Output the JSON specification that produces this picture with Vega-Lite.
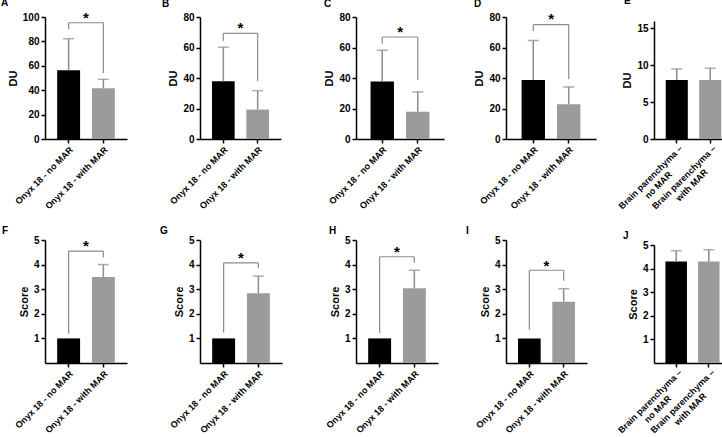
{
"$schema": "https://vega.github.io/schema/vega-lite/v6.json",
"padding": {"left": 1, "top": -4, "right": 0, "bottom": 0},
"datasets": {
"rows": [
{"kind": "bar", "panel": "A", "group": "Onyx 18 - no MAR", "cond": "no", "mean": 56.3, "hi": 82.2},
{"kind": "bar", "panel": "A", "group": "Onyx 18 - with MAR", "cond": "with", "mean": 41.5, "hi": 48.9},
{"kind": "bar", "panel": "B", "group": "Onyx 18 - no MAR", "cond": "no", "mean": 37.8, "hi": 60.2},
{"kind": "bar", "panel": "B", "group": "Onyx 18 - with MAR", "cond": "with", "mean": 19.3, "hi": 31.7},
{"kind": "bar", "panel": "C", "group": "Onyx 18 - no MAR", "cond": "no", "mean": 37.7, "hi": 58.2},
{"kind": "bar", "panel": "C", "group": "Onyx 18 - with MAR", "cond": "with", "mean": 17.9, "hi": 30.9},
{"kind": "bar", "panel": "D", "group": "Onyx 18 - no MAR", "cond": "no", "mean": 38.7, "hi": 64.6},
{"kind": "bar", "panel": "D", "group": "Onyx 18 - with MAR", "cond": "with", "mean": 22.8, "hi": 34.1},
{"kind": "bar", "panel": "E", "group": "Brain parenchyma – no MAR", "cond": "no", "mean": 8.0, "hi": 9.5},
{"kind": "bar", "panel": "E", "group": "Brain parenchyma – with MAR", "cond": "with", "mean": 8.0, "hi": 9.6},
{"kind": "bar", "panel": "F", "group": "Onyx 18 - no MAR", "cond": "no", "mean": 1, "hi": 1},
{"kind": "bar", "panel": "F", "group": "Onyx 18 - with MAR", "cond": "with", "mean": 3.5, "hi": 4.0},
{"kind": "bar", "panel": "G", "group": "Onyx 18 - no MAR", "cond": "no", "mean": 1, "hi": 1},
{"kind": "bar", "panel": "G", "group": "Onyx 18 - with MAR", "cond": "with", "mean": 2.84, "hi": 3.53},
{"kind": "bar", "panel": "H", "group": "Onyx 18 - no MAR", "cond": "no", "mean": 1, "hi": 1},
{"kind": "bar", "panel": "H", "group": "Onyx 18 - with MAR", "cond": "with", "mean": 3.04, "hi": 3.77},
{"kind": "bar", "panel": "I", "group": "Onyx 18 - no MAR", "cond": "no", "mean": 1, "hi": 1},
{"kind": "bar", "panel": "I", "group": "Onyx 18 - with MAR", "cond": "with", "mean": 2.49, "hi": 3.02},
{"kind": "bar", "panel": "J", "group": "Brain parenchyma – no MAR", "cond": "no", "mean": 4.3, "hi": 4.76},
{"kind": "bar", "panel": "J", "group": "Brain parenchyma – with MAR", "cond": "with", "mean": 4.3, "hi": 4.8},
{"kind": "sig", "panel": "A", "g1": "Onyx 18 - no MAR", "g2": "Onyx 18 - with MAR", "yb": 95.3, "yl": 90, "yr": 54, "ys": 102},
{"kind": "sig", "panel": "B", "g1": "Onyx 18 - no MAR", "g2": "Onyx 18 - with MAR", "yb": 69.3, "yl": 64.3, "yr": 37.8, "ys": 74.8},
{"kind": "sig", "panel": "C", "g1": "Onyx 18 - no MAR", "g2": "Onyx 18 - with MAR", "yb": 66.9, "yl": 62.5, "yr": 38.8, "ys": 72},
{"kind": "sig", "panel": "D", "g1": "Onyx 18 - no MAR", "g2": "Onyx 18 - with MAR", "yb": 75, "yl": 70.6, "yr": 39.1, "ys": 80.4},
{"kind": "sig", "panel": "F", "g1": "Onyx 18 - no MAR", "g2": "Onyx 18 - with MAR", "yb": 4.55, "yl": 1.19, "yr": 4.29, "ys": 4.87},
{"kind": "sig", "panel": "G", "g1": "Onyx 18 - no MAR", "g2": "Onyx 18 - with MAR", "yb": 4.07, "yl": 1.24, "yr": 3.85, "ys": 4.39},
{"kind": "sig", "panel": "H", "g1": "Onyx 18 - no MAR", "g2": "Onyx 18 - with MAR", "yb": 4.32, "yl": 1.22, "yr": 4.08, "ys": 4.62},
{"kind": "sig", "panel": "I", "g1": "Onyx 18 - no MAR", "g2": "Onyx 18 - with MAR", "yb": 3.77, "yl": 1.35, "yr": 3.34, "ys": 4.08}
]
},
"data": {"name": "rows"},
"columns": 5,
"bounds": "flush",
"align": {"row": "all", "column": "none"},
"spacing": {"row": 100, "column": 0},
"resolve": {"scale": {"x": "independent", "y": "independent"}, "axis": {"x": "independent", "y": "independent"}},
"config": {
"font": "Liberation Sans",
"view": {"stroke": null},
"axis": {"grid": false, "domainColor": "#000000", "domainWidth": 1.5, "tickColor": "#000000", "tickWidth": 1.5, "tickSize": 4, "labelColor": "#000000", "labelFont": "Liberation Sans", "labelFontWeight": "bold", "labelFontSize": 10, "labelPadding": 2, "labelOverlap": false, "labelSeparation": 0, "titleFont": "Liberation Sans", "titleFontWeight": "bold", "titleFontSize": 11, "titleColor": "#000000"},
"axisX": {"labelAngle": -45, "labelFontSize": 9, "labelLimit": 200},
"axisY": {"titlePadding": 4, "labelOverlap": false},
"axisQuantitative": {"labelOverlap": false},
"title": {"anchor": "start", "frame": "group", "fontSize": 10, "fontWeight": "bold", "font": "Liberation Sans", "color": "#000000"}
},
"concat": [
{"width": 152, "height": 122, "title": {"text": "A", "dx": -44, "dy": 1},
"transform": [{"filter": "datum.panel == 'A'"}],
"layer": [
{"transform": [{"filter": "datum.kind == 'bar'"}], "mark": {"type": "bar"},
"encoding": {"x": {"field": "group", "type": "nominal", "title": null, "scale": {"domain": ["Onyx 18 - no MAR", "Onyx 18 - with MAR"], "range": [0, 82], "paddingInner": 0.34, "paddingOuter": 0.35}},
"y": {"field": "mean", "type": "quantitative", "title": "DU", "scale": {"domain": [0, 100]}, "axis": {"values": [0, 20, 40, 60, 80, 100], "labelOverlap": false, "tickCount": 6}},
"color": {"field": "cond", "type": "nominal", "scale": {"domain": ["no", "with"], "range": ["#000000", "#9b9b9b"]}, "legend": null}}},
{"transform": [{"filter": "datum.kind == 'bar' && datum.hi > datum.mean"}], "mark": {"type": "rule", "color": "#8c8c8c", "strokeWidth": 1.5},
"encoding": {"x": {"field": "group", "type": "nominal", "title": null}, "y": {"field": "mean", "type": "quantitative", "title": "DU", "axis": {"values": [0, 20, 40, 60, 80, 100], "labelOverlap": false, "tickCount": 6}}, "y2": {"field": "hi"}}},
{"transform": [{"filter": "datum.kind == 'bar' && datum.hi > datum.mean"}], "mark": {"type": "tick", "color": "#8c8c8c", "thickness": 1.5, "size": 11, "orient": "horizontal"},
"encoding": {"x": {"field": "group", "type": "nominal", "title": null}, "y": {"field": "hi", "type": "quantitative", "title": "DU", "axis": {"values": [0, 20, 40, 60, 80, 100], "labelOverlap": false, "tickCount": 6}}}},
{"transform": [{"filter": "datum.kind == 'sig'"}], "mark": {"type": "rule", "color": "#8c8c8c", "strokeWidth": 1.2},
"encoding": {"x": {"field": "g1", "type": "nominal", "title": null}, "x2": {"field": "g2"}, "y": {"field": "yb", "type": "quantitative", "title": "DU", "axis": {"values": [0, 20, 40, 60, 80, 100], "labelOverlap": false, "tickCount": 6}}}},
{"transform": [{"filter": "datum.kind == 'sig'"}], "mark": {"type": "rule", "color": "#8c8c8c", "strokeWidth": 1.2},
"encoding": {"x": {"field": "g1", "type": "nominal", "title": null}, "y": {"field": "yl", "type": "quantitative", "title": "DU", "axis": {"values": [0, 20, 40, 60, 80, 100], "labelOverlap": false, "tickCount": 6}}, "y2": {"field": "yb"}}},
{"transform": [{"filter": "datum.kind == 'sig'"}], "mark": {"type": "rule", "color": "#8c8c8c", "strokeWidth": 1.2},
"encoding": {"x": {"field": "g2", "type": "nominal", "title": null}, "y": {"field": "yr", "type": "quantitative", "title": "DU", "axis": {"values": [0, 20, 40, 60, 80, 100], "labelOverlap": false, "tickCount": 6}}, "y2": {"field": "yb"}}},
{"transform": [{"filter": "datum.kind == 'sig'"}], "mark": {"type": "text", "text": "*", "fontSize": 15, "fontWeight": "bold", "dx": 17.4, "dy": 3, "color": "#000000"},
"encoding": {"x": {"field": "g1", "type": "nominal", "title": null}, "y": {"field": "ys", "type": "quantitative", "title": "DU", "axis": {"values": [0, 20, 40, 60, 80, 100], "labelOverlap": false, "tickCount": 6}}}}
]},
{"width": 156, "height": 122, "title": {"text": "B", "dx": -38, "dy": 1},
"transform": [{"filter": "datum.panel == 'B'"}],
"layer": [
{"transform": [{"filter": "datum.kind == 'bar'"}], "mark": {"type": "bar"},
"encoding": {"x": {"field": "group", "type": "nominal", "title": null, "scale": {"domain": ["Onyx 18 - no MAR", "Onyx 18 - with MAR"], "range": [0, 81], "paddingInner": 0.34, "paddingOuter": 0.35}},
"y": {"field": "mean", "type": "quantitative", "title": "DU", "scale": {"domain": [0, 80]}, "axis": {"values": [0, 20, 40, 60, 80], "labelOverlap": false, "tickCount": 5}},
"color": {"field": "cond", "type": "nominal", "scale": {"domain": ["no", "with"], "range": ["#000000", "#9b9b9b"]}, "legend": null}}},
{"transform": [{"filter": "datum.kind == 'bar' && datum.hi > datum.mean"}], "mark": {"type": "rule", "color": "#8c8c8c", "strokeWidth": 1.5},
"encoding": {"x": {"field": "group", "type": "nominal", "title": null}, "y": {"field": "mean", "type": "quantitative", "title": "DU", "axis": {"values": [0, 20, 40, 60, 80], "labelOverlap": false, "tickCount": 5}}, "y2": {"field": "hi"}}},
{"transform": [{"filter": "datum.kind == 'bar' && datum.hi > datum.mean"}], "mark": {"type": "tick", "color": "#8c8c8c", "thickness": 1.5, "size": 11, "orient": "horizontal"},
"encoding": {"x": {"field": "group", "type": "nominal", "title": null}, "y": {"field": "hi", "type": "quantitative", "title": "DU", "axis": {"values": [0, 20, 40, 60, 80], "labelOverlap": false, "tickCount": 5}}}},
{"transform": [{"filter": "datum.kind == 'sig'"}], "mark": {"type": "rule", "color": "#8c8c8c", "strokeWidth": 1.2},
"encoding": {"x": {"field": "g1", "type": "nominal", "title": null}, "x2": {"field": "g2"}, "y": {"field": "yb", "type": "quantitative", "title": "DU", "axis": {"values": [0, 20, 40, 60, 80], "labelOverlap": false, "tickCount": 5}}}},
{"transform": [{"filter": "datum.kind == 'sig'"}], "mark": {"type": "rule", "color": "#8c8c8c", "strokeWidth": 1.2},
"encoding": {"x": {"field": "g1", "type": "nominal", "title": null}, "y": {"field": "yl", "type": "quantitative", "title": "DU", "axis": {"values": [0, 20, 40, 60, 80], "labelOverlap": false, "tickCount": 5}}, "y2": {"field": "yb"}}},
{"transform": [{"filter": "datum.kind == 'sig'"}], "mark": {"type": "rule", "color": "#8c8c8c", "strokeWidth": 1.2},
"encoding": {"x": {"field": "g2", "type": "nominal", "title": null}, "y": {"field": "yr", "type": "quantitative", "title": "DU", "axis": {"values": [0, 20, 40, 60, 80], "labelOverlap": false, "tickCount": 5}}, "y2": {"field": "yb"}}},
{"transform": [{"filter": "datum.kind == 'sig'"}], "mark": {"type": "text", "text": "*", "fontSize": 15, "fontWeight": "bold", "dx": 17.2, "dy": 3, "color": "#000000"},
"encoding": {"x": {"field": "g1", "type": "nominal", "title": null}, "y": {"field": "ys", "type": "quantitative", "title": "DU", "axis": {"values": [0, 20, 40, 60, 80], "labelOverlap": false, "tickCount": 5}}}}
]},
{"width": 139, "height": 122, "title": {"text": "C", "dx": -32, "dy": 1},
"transform": [{"filter": "datum.panel == 'C'"}],
"layer": [
{"transform": [{"filter": "datum.kind == 'bar'"}], "mark": {"type": "bar"},
"encoding": {"x": {"field": "group", "type": "nominal", "title": null, "scale": {"domain": ["Onyx 18 - no MAR", "Onyx 18 - with MAR"], "range": [0, 88], "paddingInner": 0.34, "paddingOuter": 0.41}},
"y": {"field": "mean", "type": "quantitative", "title": "DU", "scale": {"domain": [0, 80]}, "axis": {"values": [0, 20, 40, 60, 80], "labelOverlap": false, "tickCount": 5}},
"color": {"field": "cond", "type": "nominal", "scale": {"domain": ["no", "with"], "range": ["#000000", "#9b9b9b"]}, "legend": null}}},
{"transform": [{"filter": "datum.kind == 'bar' && datum.hi > datum.mean"}], "mark": {"type": "rule", "color": "#8c8c8c", "strokeWidth": 1.5},
"encoding": {"x": {"field": "group", "type": "nominal", "title": null}, "y": {"field": "mean", "type": "quantitative", "title": "DU", "axis": {"values": [0, 20, 40, 60, 80], "labelOverlap": false, "tickCount": 5}}, "y2": {"field": "hi"}}},
{"transform": [{"filter": "datum.kind == 'bar' && datum.hi > datum.mean"}], "mark": {"type": "tick", "color": "#8c8c8c", "thickness": 1.5, "size": 11, "orient": "horizontal"},
"encoding": {"x": {"field": "group", "type": "nominal", "title": null}, "y": {"field": "hi", "type": "quantitative", "title": "DU", "axis": {"values": [0, 20, 40, 60, 80], "labelOverlap": false, "tickCount": 5}}}},
{"transform": [{"filter": "datum.kind == 'sig'"}], "mark": {"type": "rule", "color": "#8c8c8c", "strokeWidth": 1.2},
"encoding": {"x": {"field": "g1", "type": "nominal", "title": null}, "x2": {"field": "g2"}, "y": {"field": "yb", "type": "quantitative", "title": "DU", "axis": {"values": [0, 20, 40, 60, 80], "labelOverlap": false, "tickCount": 5}}}},
{"transform": [{"filter": "datum.kind == 'sig'"}], "mark": {"type": "rule", "color": "#8c8c8c", "strokeWidth": 1.2},
"encoding": {"x": {"field": "g1", "type": "nominal", "title": null}, "y": {"field": "yl", "type": "quantitative", "title": "DU", "axis": {"values": [0, 20, 40, 60, 80], "labelOverlap": false, "tickCount": 5}}, "y2": {"field": "yb"}}},
{"transform": [{"filter": "datum.kind == 'sig'"}], "mark": {"type": "rule", "color": "#8c8c8c", "strokeWidth": 1.2},
"encoding": {"x": {"field": "g2", "type": "nominal", "title": null}, "y": {"field": "yr", "type": "quantitative", "title": "DU", "axis": {"values": [0, 20, 40, 60, 80], "labelOverlap": false, "tickCount": 5}}, "y2": {"field": "yb"}}},
{"transform": [{"filter": "datum.kind == 'sig'"}], "mark": {"type": "text", "text": "*", "fontSize": 15, "fontWeight": "bold", "dx": 17.8, "dy": 3, "color": "#000000"},
"encoding": {"x": {"field": "g1", "type": "nominal", "title": null}, "y": {"field": "ys", "type": "quantitative", "title": "DU", "axis": {"values": [0, 20, 40, 60, 80], "labelOverlap": false, "tickCount": 5}}}}
]},
{"width": 148, "height": 122, "title": {"text": "D", "dx": -32, "dy": 1},
"transform": [{"filter": "datum.panel == 'D'"}],
"layer": [
{"transform": [{"filter": "datum.kind == 'bar'"}], "mark": {"type": "bar"},
"encoding": {"x": {"field": "group", "type": "nominal", "title": null, "scale": {"domain": ["Onyx 18 - no MAR", "Onyx 18 - with MAR"], "range": [0, 90], "paddingInner": 0.34, "paddingOuter": 0.44}},
"y": {"field": "mean", "type": "quantitative", "title": "DU", "scale": {"domain": [0, 80]}, "axis": {"values": [0, 20, 40, 60, 80], "labelOverlap": false, "tickCount": 5}},
"color": {"field": "cond", "type": "nominal", "scale": {"domain": ["no", "with"], "range": ["#000000", "#9b9b9b"]}, "legend": null}}},
{"transform": [{"filter": "datum.kind == 'bar' && datum.hi > datum.mean"}], "mark": {"type": "rule", "color": "#8c8c8c", "strokeWidth": 1.5},
"encoding": {"x": {"field": "group", "type": "nominal", "title": null}, "y": {"field": "mean", "type": "quantitative", "title": "DU", "axis": {"values": [0, 20, 40, 60, 80], "labelOverlap": false, "tickCount": 5}}, "y2": {"field": "hi"}}},
{"transform": [{"filter": "datum.kind == 'bar' && datum.hi > datum.mean"}], "mark": {"type": "tick", "color": "#8c8c8c", "thickness": 1.5, "size": 11, "orient": "horizontal"},
"encoding": {"x": {"field": "group", "type": "nominal", "title": null}, "y": {"field": "hi", "type": "quantitative", "title": "DU", "axis": {"values": [0, 20, 40, 60, 80], "labelOverlap": false, "tickCount": 5}}}},
{"transform": [{"filter": "datum.kind == 'sig'"}], "mark": {"type": "rule", "color": "#8c8c8c", "strokeWidth": 1.2},
"encoding": {"x": {"field": "g1", "type": "nominal", "title": null}, "x2": {"field": "g2"}, "y": {"field": "yb", "type": "quantitative", "title": "DU", "axis": {"values": [0, 20, 40, 60, 80], "labelOverlap": false, "tickCount": 5}}}},
{"transform": [{"filter": "datum.kind == 'sig'"}], "mark": {"type": "rule", "color": "#8c8c8c", "strokeWidth": 1.2},
"encoding": {"x": {"field": "g1", "type": "nominal", "title": null}, "y": {"field": "yl", "type": "quantitative", "title": "DU", "axis": {"values": [0, 20, 40, 60, 80], "labelOverlap": false, "tickCount": 5}}, "y2": {"field": "yb"}}},
{"transform": [{"filter": "datum.kind == 'sig'"}], "mark": {"type": "rule", "color": "#8c8c8c", "strokeWidth": 1.2},
"encoding": {"x": {"field": "g2", "type": "nominal", "title": null}, "y": {"field": "yr", "type": "quantitative", "title": "DU", "axis": {"values": [0, 20, 40, 60, 80], "labelOverlap": false, "tickCount": 5}}, "y2": {"field": "yb"}}},
{"transform": [{"filter": "datum.kind == 'sig'"}], "mark": {"type": "text", "text": "*", "fontSize": 15, "fontWeight": "bold", "dx": 17.8, "dy": 3, "color": "#000000"},
"encoding": {"x": {"field": "g1", "type": "nominal", "title": null}, "y": {"field": "ys", "type": "quantitative", "title": "DU", "axis": {"values": [0, 20, 40, 60, 80], "labelOverlap": false, "tickCount": 5}}}}
]},
{"width": 79, "height": 122, "title": {"text": "E", "dx": -30, "dy": -7},
"transform": [{"filter": "datum.panel == 'E'"}],
"layer": [
{"transform": [{"filter": "datum.kind == 'bar'"}], "mark": {"type": "bar"},
"encoding": {"x": {"field": "group", "type": "nominal", "title": null, "scale": {"domain": ["Brain parenchyma – no MAR", "Brain parenchyma – with MAR"], "range": [0, 79], "paddingInner": 0.34, "paddingOuter": 0.35}, "axis": {"labelExpr": "[slice(datum.label, 0, 18), slice(datum.label, 19)]", "labelAlign": "center", "labelOffset": -29, "labelPadding": 31}},
"y": {"field": "mean", "type": "quantitative", "title": "DU", "scale": {"domain": [0, 15], "range": [122, 4]}, "axis": {"values": [0, 5, 10, 15], "labelOverlap": false, "tickCount": 4}},
"color": {"field": "cond", "type": "nominal", "scale": {"domain": ["no", "with"], "range": ["#000000", "#9b9b9b"]}, "legend": null}}},
{"transform": [{"filter": "datum.kind == 'bar' && datum.hi > datum.mean"}], "mark": {"type": "rule", "color": "#8c8c8c", "strokeWidth": 1.5},
"encoding": {"x": {"field": "group", "type": "nominal", "title": null}, "y": {"field": "mean", "type": "quantitative", "title": "DU", "axis": {"values": [0, 5, 10, 15], "labelOverlap": false, "tickCount": 4}}, "y2": {"field": "hi"}}},
{"transform": [{"filter": "datum.kind == 'bar' && datum.hi > datum.mean"}], "mark": {"type": "tick", "color": "#8c8c8c", "thickness": 1.5, "size": 11, "orient": "horizontal"},
"encoding": {"x": {"field": "group", "type": "nominal", "title": null}, "y": {"field": "hi", "type": "quantitative", "title": "DU", "axis": {"values": [0, 5, 10, 15], "labelOverlap": false, "tickCount": 4}}}}
]},
{"width": 155, "height": 123, "title": {"text": "F", "dx": -43, "dy": 5},
"transform": [{"filter": "datum.panel == 'F'"}],
"layer": [
{"transform": [{"filter": "datum.kind == 'bar'"}], "mark": {"type": "bar"},
"encoding": {"x": {"field": "group", "type": "nominal", "title": null, "scale": {"domain": ["Onyx 18 - no MAR", "Onyx 18 - with MAR"], "range": [0, 82], "paddingInner": 0.34, "paddingOuter": 0.35}},
"y": {"field": "mean", "type": "quantitative", "title": "Score", "scale": {"domain": [0, 5]}, "axis": {"values": [1, 2, 3, 4, 5], "labelOverlap": false, "tickCount": 5}},
"color": {"field": "cond", "type": "nominal", "scale": {"domain": ["no", "with"], "range": ["#000000", "#9b9b9b"]}, "legend": null}}},
{"transform": [{"filter": "datum.kind == 'bar' && datum.hi > datum.mean"}], "mark": {"type": "rule", "color": "#8c8c8c", "strokeWidth": 1.5},
"encoding": {"x": {"field": "group", "type": "nominal", "title": null}, "y": {"field": "mean", "type": "quantitative", "title": "Score", "axis": {"values": [1, 2, 3, 4, 5], "labelOverlap": false, "tickCount": 5}}, "y2": {"field": "hi"}}},
{"transform": [{"filter": "datum.kind == 'bar' && datum.hi > datum.mean"}], "mark": {"type": "tick", "color": "#8c8c8c", "thickness": 1.5, "size": 11, "orient": "horizontal"},
"encoding": {"x": {"field": "group", "type": "nominal", "title": null}, "y": {"field": "hi", "type": "quantitative", "title": "Score", "axis": {"values": [1, 2, 3, 4, 5], "labelOverlap": false, "tickCount": 5}}}},
{"transform": [{"filter": "datum.kind == 'sig'"}], "mark": {"type": "rule", "color": "#8c8c8c", "strokeWidth": 1.2},
"encoding": {"x": {"field": "g1", "type": "nominal", "title": null}, "x2": {"field": "g2"}, "y": {"field": "yb", "type": "quantitative", "title": "Score", "axis": {"values": [1, 2, 3, 4, 5], "labelOverlap": false, "tickCount": 5}}}},
{"transform": [{"filter": "datum.kind == 'sig'"}], "mark": {"type": "rule", "color": "#8c8c8c", "strokeWidth": 1.2},
"encoding": {"x": {"field": "g1", "type": "nominal", "title": null}, "y": {"field": "yl", "type": "quantitative", "title": "Score", "axis": {"values": [1, 2, 3, 4, 5], "labelOverlap": false, "tickCount": 5}}, "y2": {"field": "yb"}}},
{"transform": [{"filter": "datum.kind == 'sig'"}], "mark": {"type": "rule", "color": "#8c8c8c", "strokeWidth": 1.2},
"encoding": {"x": {"field": "g2", "type": "nominal", "title": null}, "y": {"field": "yr", "type": "quantitative", "title": "Score", "axis": {"values": [1, 2, 3, 4, 5], "labelOverlap": false, "tickCount": 5}}, "y2": {"field": "yb"}}},
{"transform": [{"filter": "datum.kind == 'sig'"}], "mark": {"type": "text", "text": "*", "fontSize": 15, "fontWeight": "bold", "dx": 17.4, "dy": 3, "color": "#000000"},
"encoding": {"x": {"field": "g1", "type": "nominal", "title": null}, "y": {"field": "ys", "type": "quantitative", "title": "Score", "axis": {"values": [1, 2, 3, 4, 5], "labelOverlap": false, "tickCount": 5}}}}
]},
{"width": 151, "height": 123, "title": {"text": "G", "dx": -40, "dy": 5},
"transform": [{"filter": "datum.panel == 'G'"}],
"layer": [
{"transform": [{"filter": "datum.kind == 'bar'"}], "mark": {"type": "bar"},
"encoding": {"x": {"field": "group", "type": "nominal", "title": null, "scale": {"domain": ["Onyx 18 - no MAR", "Onyx 18 - with MAR"], "range": [0, 82], "paddingInner": 0.34, "paddingOuter": 0.35}},
"y": {"field": "mean", "type": "quantitative", "title": "Score", "scale": {"domain": [0, 5]}, "axis": {"values": [1, 2, 3, 4, 5], "labelOverlap": false, "tickCount": 5}},
"color": {"field": "cond", "type": "nominal", "scale": {"domain": ["no", "with"], "range": ["#000000", "#9b9b9b"]}, "legend": null}}},
{"transform": [{"filter": "datum.kind == 'bar' && datum.hi > datum.mean"}], "mark": {"type": "rule", "color": "#8c8c8c", "strokeWidth": 1.5},
"encoding": {"x": {"field": "group", "type": "nominal", "title": null}, "y": {"field": "mean", "type": "quantitative", "title": "Score", "axis": {"values": [1, 2, 3, 4, 5], "labelOverlap": false, "tickCount": 5}}, "y2": {"field": "hi"}}},
{"transform": [{"filter": "datum.kind == 'bar' && datum.hi > datum.mean"}], "mark": {"type": "tick", "color": "#8c8c8c", "thickness": 1.5, "size": 11, "orient": "horizontal"},
"encoding": {"x": {"field": "group", "type": "nominal", "title": null}, "y": {"field": "hi", "type": "quantitative", "title": "Score", "axis": {"values": [1, 2, 3, 4, 5], "labelOverlap": false, "tickCount": 5}}}},
{"transform": [{"filter": "datum.kind == 'sig'"}], "mark": {"type": "rule", "color": "#8c8c8c", "strokeWidth": 1.2},
"encoding": {"x": {"field": "g1", "type": "nominal", "title": null}, "x2": {"field": "g2"}, "y": {"field": "yb", "type": "quantitative", "title": "Score", "axis": {"values": [1, 2, 3, 4, 5], "labelOverlap": false, "tickCount": 5}}}},
{"transform": [{"filter": "datum.kind == 'sig'"}], "mark": {"type": "rule", "color": "#8c8c8c", "strokeWidth": 1.2},
"encoding": {"x": {"field": "g1", "type": "nominal", "title": null}, "y": {"field": "yl", "type": "quantitative", "title": "Score", "axis": {"values": [1, 2, 3, 4, 5], "labelOverlap": false, "tickCount": 5}}, "y2": {"field": "yb"}}},
{"transform": [{"filter": "datum.kind == 'sig'"}], "mark": {"type": "rule", "color": "#8c8c8c", "strokeWidth": 1.2},
"encoding": {"x": {"field": "g2", "type": "nominal", "title": null}, "y": {"field": "yr", "type": "quantitative", "title": "Score", "axis": {"values": [1, 2, 3, 4, 5], "labelOverlap": false, "tickCount": 5}}, "y2": {"field": "yb"}}},
{"transform": [{"filter": "datum.kind == 'sig'"}], "mark": {"type": "text", "text": "*", "fontSize": 15, "fontWeight": "bold", "dx": 17.4, "dy": 3, "color": "#000000"},
"encoding": {"x": {"field": "g1", "type": "nominal", "title": null}, "y": {"field": "ys", "type": "quantitative", "title": "Score", "axis": {"values": [1, 2, 3, 4, 5], "labelOverlap": false, "tickCount": 5}}}}
]},
{"width": 150, "height": 123, "title": {"text": "H", "dx": -27, "dy": 5},
"transform": [{"filter": "datum.panel == 'H'"}],
"layer": [
{"transform": [{"filter": "datum.kind == 'bar'"}], "mark": {"type": "bar"},
"encoding": {"x": {"field": "group", "type": "nominal", "title": null, "scale": {"domain": ["Onyx 18 - no MAR", "Onyx 18 - with MAR"], "range": [0, 82], "paddingInner": 0.34, "paddingOuter": 0.35}},
"y": {"field": "mean", "type": "quantitative", "title": "Score", "scale": {"domain": [0, 5]}, "axis": {"values": [1, 2, 3, 4, 5], "labelOverlap": false, "tickCount": 5}},
"color": {"field": "cond", "type": "nominal", "scale": {"domain": ["no", "with"], "range": ["#000000", "#9b9b9b"]}, "legend": null}}},
{"transform": [{"filter": "datum.kind == 'bar' && datum.hi > datum.mean"}], "mark": {"type": "rule", "color": "#8c8c8c", "strokeWidth": 1.5},
"encoding": {"x": {"field": "group", "type": "nominal", "title": null}, "y": {"field": "mean", "type": "quantitative", "title": "Score", "axis": {"values": [1, 2, 3, 4, 5], "labelOverlap": false, "tickCount": 5}}, "y2": {"field": "hi"}}},
{"transform": [{"filter": "datum.kind == 'bar' && datum.hi > datum.mean"}], "mark": {"type": "tick", "color": "#8c8c8c", "thickness": 1.5, "size": 11, "orient": "horizontal"},
"encoding": {"x": {"field": "group", "type": "nominal", "title": null}, "y": {"field": "hi", "type": "quantitative", "title": "Score", "axis": {"values": [1, 2, 3, 4, 5], "labelOverlap": false, "tickCount": 5}}}},
{"transform": [{"filter": "datum.kind == 'sig'"}], "mark": {"type": "rule", "color": "#8c8c8c", "strokeWidth": 1.2},
"encoding": {"x": {"field": "g1", "type": "nominal", "title": null}, "x2": {"field": "g2"}, "y": {"field": "yb", "type": "quantitative", "title": "Score", "axis": {"values": [1, 2, 3, 4, 5], "labelOverlap": false, "tickCount": 5}}}},
{"transform": [{"filter": "datum.kind == 'sig'"}], "mark": {"type": "rule", "color": "#8c8c8c", "strokeWidth": 1.2},
"encoding": {"x": {"field": "g1", "type": "nominal", "title": null}, "y": {"field": "yl", "type": "quantitative", "title": "Score", "axis": {"values": [1, 2, 3, 4, 5], "labelOverlap": false, "tickCount": 5}}, "y2": {"field": "yb"}}},
{"transform": [{"filter": "datum.kind == 'sig'"}], "mark": {"type": "rule", "color": "#8c8c8c", "strokeWidth": 1.2},
"encoding": {"x": {"field": "g2", "type": "nominal", "title": null}, "y": {"field": "yr", "type": "quantitative", "title": "Score", "axis": {"values": [1, 2, 3, 4, 5], "labelOverlap": false, "tickCount": 5}}, "y2": {"field": "yb"}}},
{"transform": [{"filter": "datum.kind == 'sig'"}], "mark": {"type": "text", "text": "*", "fontSize": 15, "fontWeight": "bold", "dx": 17.4, "dy": 3, "color": "#000000"},
"encoding": {"x": {"field": "g1", "type": "nominal", "title": null}, "y": {"field": "ys", "type": "quantitative", "title": "Score", "axis": {"values": [1, 2, 3, 4, 5], "labelOverlap": false, "tickCount": 5}}}}
]},
{"width": 141, "height": 123, "title": {"text": "I", "dx": -40, "dy": 5},
"transform": [{"filter": "datum.panel == 'I'"}],
"layer": [
{"transform": [{"filter": "datum.kind == 'bar'"}], "mark": {"type": "bar"},
"encoding": {"x": {"field": "group", "type": "nominal", "title": null, "scale": {"domain": ["Onyx 18 - no MAR", "Onyx 18 - with MAR"], "range": [0, 81], "paddingInner": 0.34, "paddingOuter": 0.35}},
"y": {"field": "mean", "type": "quantitative", "title": "Score", "scale": {"domain": [0, 5]}, "axis": {"values": [1, 2, 3, 4, 5], "labelOverlap": false, "tickCount": 5}},
"color": {"field": "cond", "type": "nominal", "scale": {"domain": ["no", "with"], "range": ["#000000", "#9b9b9b"]}, "legend": null}}},
{"transform": [{"filter": "datum.kind == 'bar' && datum.hi > datum.mean"}], "mark": {"type": "rule", "color": "#8c8c8c", "strokeWidth": 1.5},
"encoding": {"x": {"field": "group", "type": "nominal", "title": null}, "y": {"field": "mean", "type": "quantitative", "title": "Score", "axis": {"values": [1, 2, 3, 4, 5], "labelOverlap": false, "tickCount": 5}}, "y2": {"field": "hi"}}},
{"transform": [{"filter": "datum.kind == 'bar' && datum.hi > datum.mean"}], "mark": {"type": "tick", "color": "#8c8c8c", "thickness": 1.5, "size": 11, "orient": "horizontal"},
"encoding": {"x": {"field": "group", "type": "nominal", "title": null}, "y": {"field": "hi", "type": "quantitative", "title": "Score", "axis": {"values": [1, 2, 3, 4, 5], "labelOverlap": false, "tickCount": 5}}}},
{"transform": [{"filter": "datum.kind == 'sig'"}], "mark": {"type": "rule", "color": "#8c8c8c", "strokeWidth": 1.2},
"encoding": {"x": {"field": "g1", "type": "nominal", "title": null}, "x2": {"field": "g2"}, "y": {"field": "yb", "type": "quantitative", "title": "Score", "axis": {"values": [1, 2, 3, 4, 5], "labelOverlap": false, "tickCount": 5}}}},
{"transform": [{"filter": "datum.kind == 'sig'"}], "mark": {"type": "rule", "color": "#8c8c8c", "strokeWidth": 1.2},
"encoding": {"x": {"field": "g1", "type": "nominal", "title": null}, "y": {"field": "yl", "type": "quantitative", "title": "Score", "axis": {"values": [1, 2, 3, 4, 5], "labelOverlap": false, "tickCount": 5}}, "y2": {"field": "yb"}}},
{"transform": [{"filter": "datum.kind == 'sig'"}], "mark": {"type": "rule", "color": "#8c8c8c", "strokeWidth": 1.2},
"encoding": {"x": {"field": "g2", "type": "nominal", "title": null}, "y": {"field": "yr", "type": "quantitative", "title": "Score", "axis": {"values": [1, 2, 3, 4, 5], "labelOverlap": false, "tickCount": 5}}, "y2": {"field": "yb"}}},
{"transform": [{"filter": "datum.kind == 'sig'"}], "mark": {"type": "text", "text": "*", "fontSize": 15, "fontWeight": "bold", "dx": 17.2, "dy": 3, "color": "#000000"},
"encoding": {"x": {"field": "g1", "type": "nominal", "title": null}, "y": {"field": "ys", "type": "quantitative", "title": "Score", "axis": {"values": [1, 2, 3, 4, 5], "labelOverlap": false, "tickCount": 5}}}}
]},
{"width": 77, "height": 123, "title": {"text": "J", "dx": -31, "dy": 5},
"transform": [{"filter": "datum.panel == 'J'"}],
"layer": [
{"transform": [{"filter": "datum.kind == 'bar'"}], "mark": {"type": "bar"},
"encoding": {"x": {"field": "group", "type": "nominal", "title": null, "scale": {"domain": ["Brain parenchyma – no MAR", "Brain parenchyma – with MAR"], "range": [0, 77], "paddingInner": 0.34, "paddingOuter": 0.35}, "axis": {"labelExpr": "[slice(datum.label, 0, 18), slice(datum.label, 19)]", "labelAlign": "center", "labelOffset": -29, "labelPadding": 31}},
"y": {"field": "mean", "type": "quantitative", "title": "Score", "scale": {"domain": [0, 5], "range": [123, 5]}, "axis": {"values": [1, 2, 3, 4, 5], "labelOverlap": false, "tickCount": 5}},
"color": {"field": "cond", "type": "nominal", "scale": {"domain": ["no", "with"], "range": ["#000000", "#9b9b9b"]}, "legend": null}}},
{"transform": [{"filter": "datum.kind == 'bar' && datum.hi > datum.mean"}], "mark": {"type": "rule", "color": "#8c8c8c", "strokeWidth": 1.5},
"encoding": {"x": {"field": "group", "type": "nominal", "title": null}, "y": {"field": "mean", "type": "quantitative", "title": "Score", "axis": {"values": [1, 2, 3, 4, 5], "labelOverlap": false, "tickCount": 5}}, "y2": {"field": "hi"}}},
{"transform": [{"filter": "datum.kind == 'bar' && datum.hi > datum.mean"}], "mark": {"type": "tick", "color": "#8c8c8c", "thickness": 1.5, "size": 11, "orient": "horizontal"},
"encoding": {"x": {"field": "group", "type": "nominal", "title": null}, "y": {"field": "hi", "type": "quantitative", "title": "Score", "axis": {"values": [1, 2, 3, 4, 5], "labelOverlap": false, "tickCount": 5}}}}
]}
]
}
